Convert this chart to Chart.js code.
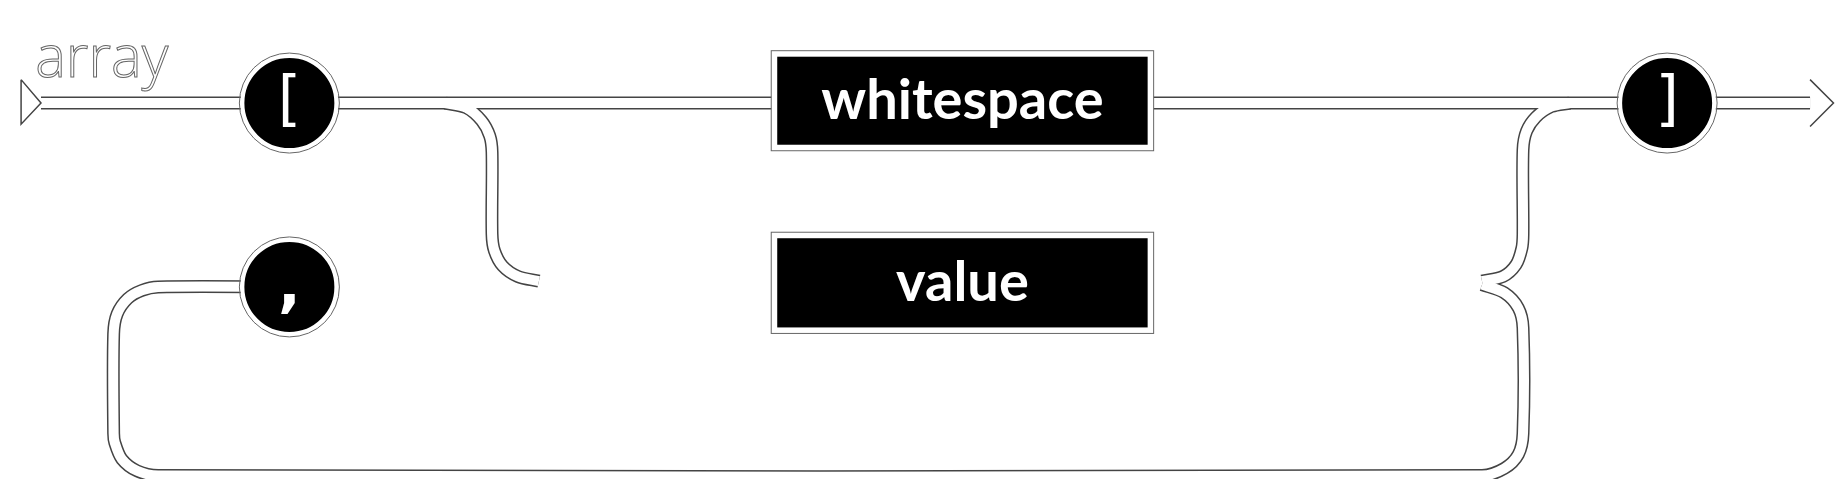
<!DOCTYPE html>
<html><head><meta charset="utf-8">
<script src="https://cdn.jsdelivr.net/npm/chart.js@4.4.0/dist/chart.umd.min.js"></script>
<style>html,body{margin:0;background:#fff}#wrap{width:1837px;height:479px}</style>
</head><body><div id="wrap"><canvas id="c"></canvas></div>
<script>
// diagram coordinates (x 0..1568, y 0..409 top-down)
const mainTrack = [{x:35,y:88},{x:1545,y:88}];
const branchIn = [{x:380,y:88},{x:398,y:92},{x:411,y:103},{x:418,y:116},{x:420,y:130},{x:420,y:200},{x:422,y:214},{x:429,y:227},{x:442,y:236},{x:460,y:240}];
const branchOut = [{x:1265,y:240},{x:1283,y:236},{x:1294,y:226},{x:1299,y:212},{x:1300,y:200},{x:1300,y:128},{x:1303,y:112},{x:1311,y:100},{x:1324,y:91},{x:1340,y:88}];
const loopBack = [{x:1265,y:243},{x:1284,y:250},{x:1296,y:263},{x:1300,y:280},{x:1300,y:370},{x:1296,y:388},{x:1284,y:400},{x:1265,y:406},{x:135,y:406},{x:117,y:402},{x:104,y:392},{x:98,y:378},{x:97,y:370},{x:97,y:285},{x:100,y:268},{x:109,y:255},{x:121,y:248},{x:135,y:245},{x:247,y:245}];
const startMark = [{x:18,y:68},{x:35,y:88},{x:18,y:106},{x:18,y:68}];
const endMark = [{x:1545,y:68},{x:1565,y:88},{x:1545,y:108}];
const circles = [{x:247,y:88},{x:1423,y:88},{x:247,y:245}];
const circleLabels = ["[", "]", ","];
const boxes = [{x1:660,x2:983,y1:45,y2:127},{x1:660,x2:983,y1:200,y2:283}];
const boxLabels = ["whitespace", "value"];
const title = "array";

const tracks = [mainTrack, branchIn, branchOut, loopBack];
const datasets = [];
datasets.push({data:circles, showLine:false, pointRadius:47, pointHoverRadius:47, clip:false,
  pointBackgroundColor:"#000", pointBorderColor:"#fff", pointBorderWidth:4, order:0});
tracks.forEach(t => datasets.push({data:t, showLine:true, borderColor:"#fff", borderWidth:10, pointRadius:0, borderCapStyle:"butt", borderJoinStyle:"round", tension:0.3, order:1}));
tracks.forEach(t => datasets.push({data:t, showLine:true, borderColor:"#444", borderWidth:13, pointRadius:0, borderCapStyle:"butt", borderJoinStyle:"round", tension:0.3, order:2}));
[startMark, endMark].forEach(t => datasets.push({data:t, showLine:true, borderColor:"#444", borderWidth:1.5, pointRadius:0, order:0}));

const decor = {
  id:"decor",
  afterDatasetsDraw(chart){
    const ctx = chart.ctx, sx = chart.scales.x, sy = chart.scales.y;
    ctx.save();
    circles.forEach((p,i) => {
      const cx = sx.getPixelForValue(p.x), cy = sy.getPixelForValue(p.y);
      ctx.beginPath(); ctx.arc(cx, cy, 50, 0, Math.PI*2);
      ctx.strokeStyle = "#666"; ctx.lineWidth = 1; ctx.stroke();
      ctx.fillStyle = "#fff"; ctx.font = (i == 2 ? "bold " : "") + "60px 'DejaVu Sans'";
      ctx.textAlign = "center"; ctx.textBaseline = "middle";
      ctx.fillText(circleLabels[i], cx, cy + (i == 2 ? 2 : 0));
    });
    boxes.forEach((b,i) => {
      const x1 = sx.getPixelForValue(b.x1), x2 = sx.getPixelForValue(b.x2);
      const y1 = sy.getPixelForValue(b.y1), y2 = sy.getPixelForValue(b.y2);
      ctx.fillStyle = "#fff"; ctx.fillRect(x1-2, y1-2, x2-x1+4, y2-y1+4);
      ctx.strokeStyle = "#666"; ctx.lineWidth = 1; ctx.strokeRect(x1-2, y1-2, x2-x1+4, y2-y1+4);
      ctx.fillStyle = "#000"; ctx.fillRect(x1+4, y1+4, x2-x1-8, y2-y1-8);
      ctx.fillStyle = "#fff"; ctx.font = "bold 56px Lato";
      ctx.textAlign = "center"; ctx.textBaseline = "middle";
      ctx.fillText(boxLabels[i], (x1+x2)/2, (y1+y2)/2);
    });
    ctx.font = "300 58px 'Open Sans'"; ctx.textAlign = "left"; ctx.textBaseline = "alphabetic";
    ctx.strokeStyle = "#666"; ctx.lineWidth = 1;
    ctx.strokeText(title, sx.getPixelForValue(30), sy.getPixelForValue(66));
    ctx.restore();
  }
};

new Chart(document.getElementById("c"), {
  type:"scatter",
  data:{datasets},
  options:{
    responsive:true, maintainAspectRatio:false, animation:false,
    layout:{padding:0, autoPadding:false},
    plugins:{legend:{display:false}, tooltip:{enabled:false}},
    scales:{
      x:{type:"linear", min:0, max:1568, display:false},
      y:{type:"linear", min:0, max:409, reverse:true, display:false}
    }
  },
  plugins:[decor]
});
</script></body></html>
